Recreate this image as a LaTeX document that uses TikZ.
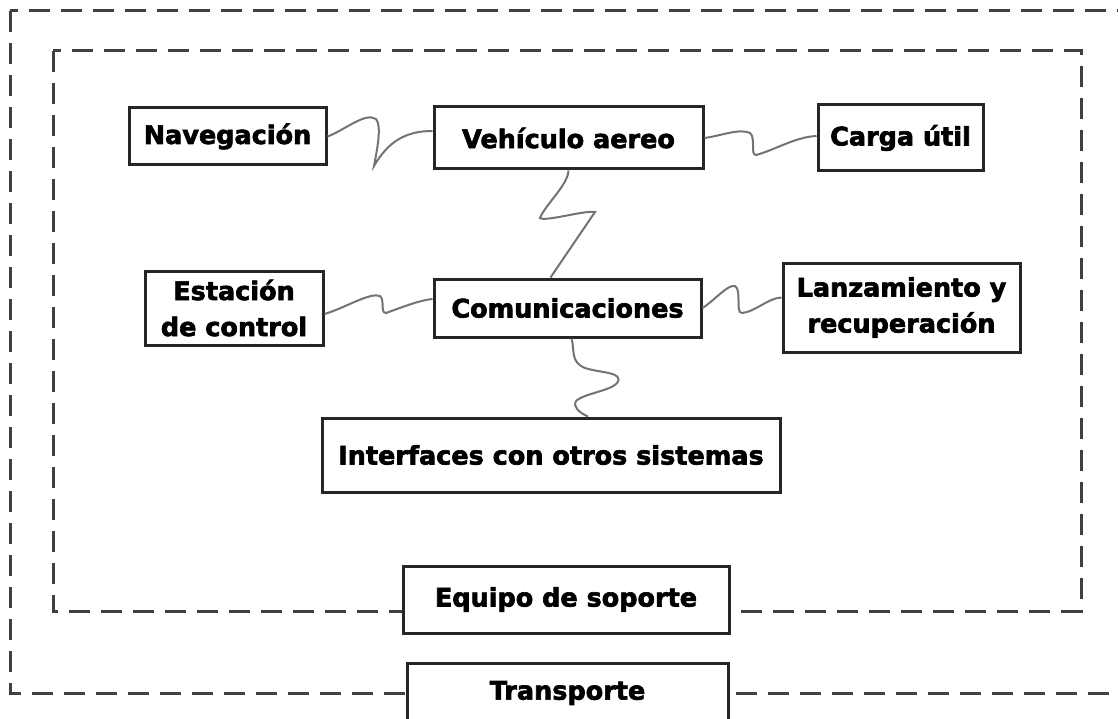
\documentclass[tikz,border=0pt]{standalone}
\usepackage{fontspec}
\setmainfont{DejaVu Sans}
\newfontfamily\boxfont{DejaVu Sans}[BoldFeatures={FakeBold=2.5}]
\usepackage{tikz}
\tikzset{sbox/.style={draw=black!85,line width=3pt,fill=white,align=center,inner sep=0pt,font=\fontsize{25.5}{36}\boxfont\bfseries}}
\tikzset{sframe/.style={draw=black!75,line width=3pt,dash pattern=on 21pt off 11pt}}
\tikzset{slink/.style={draw=black!55,line width=2pt}}

\begin{document}
\begin{tikzpicture}[x=1pt,y=-1pt]
    \useasboundingbox (0,0) rectangle (1118,719);

    % frames
    \draw[sframe] (10,11) rectangle (1140,693);
    \draw[sframe] (53,51) rectangle (1081,611);

    % blocks
    \node[sbox,minimum width=197pt,minimum height=57pt] (nav) at (227.5,136.5) {Navegación};
    \node[sbox,minimum width=269pt,minimum height=62pt] (veh) at (568.5,138) {Vehículo aereo};
    \node[sbox,minimum width=165pt,minimum height=66pt] (carga) at (900.5,138) {Carga útil};
    \node[sbox,minimum width=178pt,minimum height=74pt] (est) at (234,308) {Estación\\de control};
    \node[sbox,minimum width=267pt,minimum height=58pt] (com) at (567.5,308) {Comunicaciones};
    \node[sbox,minimum width=237pt,minimum height=89pt] (lanz) at (901.5,307.5) {Lanzamiento y\\recuperación};
    \node[sbox,minimum width=458pt,minimum height=74pt] (inter) at (551,455) {Interfaces con otros sistemas};
    \node[sbox,minimum width=326pt,minimum height=67pt] (equipo) at (566,599.5) {Equipo de soporte};
    \node[sbox,minimum width=321pt,minimum height=60pt] (transp) at (567.5,693) {Transporte};

    % links
    \draw[slink] (nav.east) .. controls (345,130) and (365,112) .. (376,119)
        .. controls (382,126) and (377,150) .. (374,166)
        .. controls (388,142) and (405,131) .. ([yshift=7pt]veh.west);
    \draw[slink] (veh.east) .. controls (720,136) and (740,128) .. (750,133)
        .. controls (756,138) and (750,155) .. (756,155)
        .. controls (775,150) and (795,137) .. ([yshift=2pt]carga.west);
    \draw[slink] (veh.south) .. controls (568,185) and (545,205) .. (540,218)
        .. controls (545,222) and (585,210) .. (595,212)
        -- ([xshift=-17pt]com.north);
    \draw[slink] ([yshift=-6pt]est.east) .. controls (345,308) and (370,292) .. (380,296)
        .. controls (385,300) and (380,313) .. (386,313)
        .. controls (400,308) and (420,300) .. ([yshift=9pt]com.west);
    \draw[slink] (com.east) .. controls (715,300) and (728,284) .. (735,286)
        .. controls (742,290) and (735,313) .. (742,313)
        .. controls (755,312) and (768,298) .. ([yshift=10pt]lanz.west);
    \draw[slink] ([xshift=4pt]com.south) .. controls (575,350) and (570,362) .. (585,368)
        .. controls (600,373) and (625,372) .. (617,383)
        .. controls (610,392) and (572,395) .. (575,405)
        .. controls (577,412) and (585,415) .. ([xshift=37pt]inter.north);
\end{tikzpicture}
\end{document}
